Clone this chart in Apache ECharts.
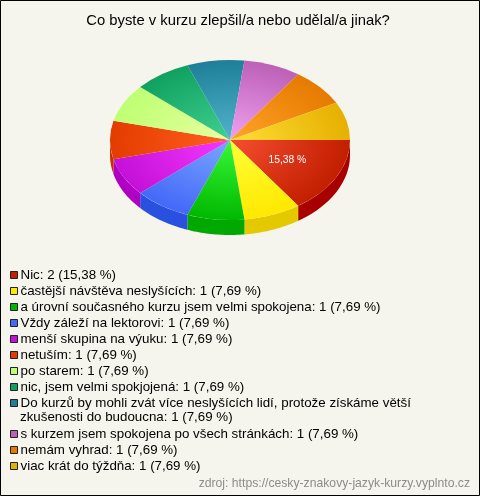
<!DOCTYPE html>
<html><head><meta charset="utf-8">
<style>html,body{margin:0;padding:0;background:#F5F5ED}#c{width:480px;height:496px}</style>
<script src="https://cdn.jsdelivr.net/npm/echarts@6/dist/echarts.min.js"></script>
</head><body><div id="c"></div>
<script>
var titleText = 'Co byste v kurzu zlepšil/a nebo udělal/a jinak?';
var sourceText = 'zdroj: https://cesky-znakovy-jazyk-kurzy.vyplnto.cz';
var categories = ['Nic','častější návštěva neslyšících','a úrovní současného kurzu jsem velmi spokojena','Vždy záleží na lektorovi','menší skupina na výuku','netuším','po starem','nic, jsem velmi spokjojená','Do kurzů by mohli zvát více neslyšících lidí, protože získáme větší\nzkušenosti do budoucna','s kurzem jsem spokojena po všech stránkách','nemám vyhrad','viac krát do týždňa'];
var counts = [2,1,1,1,1,1,1,1,1,1,1,1];
var percents = ['15,38','7,69','7,69','7,69','7,69','7,69','7,69','7,69','7,69','7,69','7,69','7,69'];
var rimColors = ['#C21E00','#FFE800','#00B800','#4468F8','#C410D8','#E43C00','#BEFF72','#10A060','#1F7F98','#BC60B8','#E67A00','#E6B000'];
var innerColors = ['#F64E30','#FFFF38','#38F838','#7AA6FF','#F638FF','#FF6020','#E8FFA0','#40D090','#50B4CC','#F0A0F0','#FFA428','#FFDE38'];
var wallColors = ['#A80000','#E4C800','#00A800','#2A50E0','#B000C4','#C83000','#BEFF72','#10A060','#1F7F98','#BC60B8','#E67A00','#E6B000'];

var CX = 230, CY = 140, RX = 120, RY = 80, DEPTH = 15;
var total = counts.reduce(function (a, b) { return a + b; }, 0);
var starts = [], acc = 0;
counts.forEach(function (v) { starts.push(acc / total * Math.PI * 2); acc += v; });

function wallPoints(a0, a1) {
  var s = Math.max(a0, 0), e = Math.min(a1, Math.PI);
  if (e <= s) return null;
  var pts = [], n = 24, i, t;
  for (i = 0; i <= n; i++) { t = s + (e - s) * i / n; pts.push([CX + RX * Math.cos(t), CY + RY * Math.sin(t)]); }
  for (i = n; i >= 0; i--) { t = s + (e - s) * i / n; pts.push([CX + RX * Math.cos(t), CY + DEPTH + RY * Math.sin(t)]); }
  return pts;
}

var series = categories.map(function (name, idx) {
  return {
    type: 'custom',
    name: name + ': ' + counts[idx] + ' (' + percents[idx] + ' %)',
    coordinateSystem: 'none',
    silent: true,
    animation: false,
    itemStyle: { color: rimColors[idx] },
    data: [[counts[idx]]],
    renderItem: function () {
      var a0 = starts[idx], a1 = a0 + counts[idx] / total * Math.PI * 2;
      var children = [];
      var w = wallPoints(a0, a1);
      if (w) children.push({ type: 'polygon', shape: { points: w }, style: { fill: wallColors[idx] } });
      children.push({
        type: 'group', x: CX, y: CY, scaleX: 1, scaleY: RY / RX,
        children: [{
          type: 'sector',
          shape: { cx: 0, cy: 0, r: RX, r0: 0, startAngle: a0, endAngle: a1, clockwise: true },
          style: {
            fill: { type: 'radial', x: 0, y: 0, r: RX, global: true,
              colorStops: [{ offset: 0, color: innerColors[idx] }, { offset: 1, color: rimColors[idx] }] }
          }
        }]
      });
      if (counts[idx] > 1) {
        var m = (a0 + a1) / 2;
        children.push({ type: 'text', x: CX + RX * 0.54 * Math.cos(m), y: CY + RY * 0.54 * Math.sin(m),
          style: { text: percents[idx] + ' %', fill: '#fff', font: '10.3px "Liberation Sans"', align: 'center', verticalAlign: 'middle' } });
      }
      return { type: 'group', children: children };
    }
  };
});

var names = series.map(function (s) { return s.name; });
function legendBlock(top, data) {
  return {
    orient: 'vertical', left: 10, top: top, padding: 0, itemGap: 2,
    itemWidth: 7, itemHeight: 7, icon: 'rect', selectedMode: false,
    itemStyle: { borderColor: '#222', borderWidth: 1 },
    textStyle: { fontFamily: 'Liberation Sans', fontSize: 13.33, color: '#000', padding: [0, 0, 0, -2], lineHeight: 14 },
    formatter: function (n) { return n.split('\n')[0]; },
    data: data
  };
}
var wrappedName = names[8];

var chart = echarts.init(document.getElementById('c'), null, { renderer: 'canvas' });
chart.setOption({
  backgroundColor: '#F5F5ED',
  animation: false,
  title: [
    { text: titleText, left: 238, top: 13, textAlign: 'center', padding: 0, textStyle: { fontFamily: 'Liberation Sans', fontSize: 14.8, fontWeight: 'normal', color: '#000' } },
    { text: sourceText, right: 10, top: 478, padding: 0, textStyle: { fontFamily: 'Liberation Sans', fontSize: 12.2, fontWeight: 'normal', color: '#8C8C8C' } }
  ],
  legend: [legendBlock(268, names.slice(0, 9)), legendBlock(427, names.slice(9))],
  graphic: [
    { type: 'rect', z: 100, silent: true, shape: { x: 0.5, y: 0.5, width: 479, height: 495 }, style: { fill: 'none', stroke: '#000', lineWidth: 1 } },
    { type: 'text', left: 20, top: 411, silent: true, style: { text: wrappedName.split('\n')[1], fill: '#000', font: '13.33px "Liberation Sans"' } }
  ],
  series: series
});
</script></body></html>
